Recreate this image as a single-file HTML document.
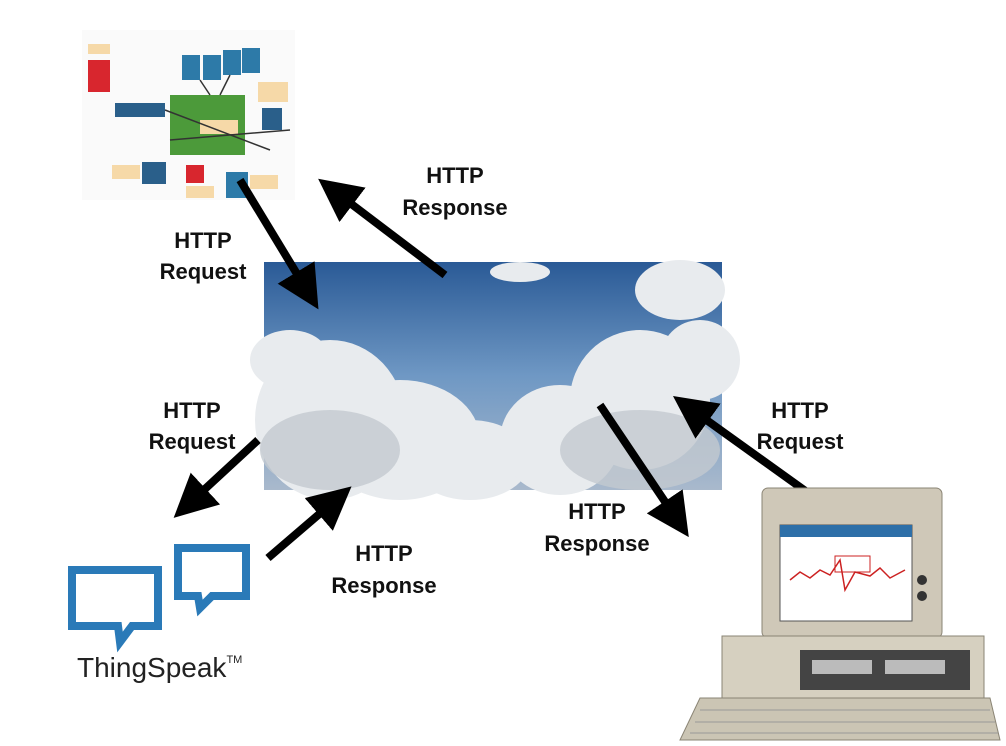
<!DOCTYPE html>
<html><head><meta charset="utf-8"><style>
html,body{margin:0;padding:0;background:#fff;width:1006px;height:746px;overflow:hidden}
svg{display:block}
text{font-family:"Liberation Sans",sans-serif;font-weight:bold;font-size:22px;fill:#111}
</style></head><body>
<svg width="1006" height="746" viewBox="0 0 1006 746">
<defs>
<linearGradient id="sky" x1="0" y1="0" x2="0" y2="1">
<stop offset="0" stop-color="#2a5a96"/><stop offset="0.5" stop-color="#6f98c4"/><stop offset="1" stop-color="#a9b9cc"/>
</linearGradient>
<marker id="ah" viewBox="0 0 10 10" refX="8" refY="5" markerWidth="5.4" markerHeight="5.4" orient="auto" markerUnits="strokeWidth">
<path d="M0,0 L10,5 L0,10 z" fill="#000"/></marker>
</defs>
<!-- circuit board -->
<rect x="82" y="30" width="213" height="170" fill="#fafafa"/>
<rect x="88" y="44" width="22" height="10" fill="#f6d9a8"/>
<rect x="88" y="60" width="22" height="32" fill="#d8262e"/>
<rect x="115" y="103" width="50" height="14" fill="#2a5f8a"/>
<rect x="170" y="95" width="75" height="60" fill="#4c9a3a"/>
<rect x="200" y="120" width="38" height="14" fill="#f6d9a8"/>
<rect x="182" y="55" width="18" height="25" fill="#2d7aa8"/>
<rect x="203" y="55" width="18" height="25" fill="#2d7aa8"/>
<rect x="223" y="50" width="18" height="25" fill="#2d7aa8"/>
<rect x="242" y="48" width="18" height="25" fill="#2d7aa8"/>
<rect x="258" y="82" width="30" height="20" fill="#f6d9a8"/>
<rect x="262" y="108" width="20" height="22" fill="#2a5f8a"/>
<rect x="112" y="165" width="28" height="14" fill="#f6d9a8"/>
<rect x="142" y="162" width="24" height="22" fill="#2a5f8a"/>
<rect x="186" y="165" width="18" height="18" fill="#d8262e"/>
<rect x="226" y="172" width="22" height="26" fill="#2d7aa8"/>
<rect x="250" y="175" width="28" height="14" fill="#f6d9a8"/>
<rect x="186" y="186" width="28" height="12" fill="#f6d9a8"/>
<path d="M165 110 L270 150 M170 140 L290 130 M200 80 L210 95 M230 75 L220 95" stroke="#333" stroke-width="1.5" fill="none"/>
<!-- cloud image -->
<rect x="264" y="262" width="458" height="228" fill="url(#sky)"/>
<g fill="#e8ebee">
<ellipse cx="330" cy="420" rx="75" ry="80"/>
<ellipse cx="400" cy="440" rx="80" ry="60"/>
<ellipse cx="470" cy="460" rx="60" ry="40"/>
<ellipse cx="560" cy="440" rx="60" ry="55"/>
<ellipse cx="640" cy="400" rx="70" ry="70"/>
<ellipse cx="700" cy="360" rx="40" ry="40"/>
<ellipse cx="680" cy="290" rx="45" ry="30"/>
<ellipse cx="520" cy="272" rx="30" ry="10"/>
<ellipse cx="290" cy="360" rx="40" ry="30"/>
</g>
<g fill="#c3c9d0" opacity="0.8">
<ellipse cx="330" cy="450" rx="70" ry="40"/>
<ellipse cx="640" cy="450" rx="80" ry="40"/>
</g>
<!-- arrows -->
<g stroke="#000" stroke-width="8" fill="none" marker-end="url(#ah)">
<line x1="240" y1="180" x2="314" y2="302"/>
<line x1="445" y1="275" x2="325" y2="184"/>
<line x1="258" y1="440" x2="180" y2="512"/>
<line x1="268" y1="558" x2="345" y2="492"/>
<line x1="600" y1="405" x2="684" y2="530"/>
<line x1="818" y1="500" x2="680" y2="401"/>
</g>
<text x="203" y="248" text-anchor="middle">HTTP</text><text x="203" y="279" text-anchor="middle">Request</text>
<text x="455" y="183" text-anchor="middle">HTTP</text><text x="455" y="215" text-anchor="middle">Response</text>
<text x="192" y="418" text-anchor="middle">HTTP</text><text x="192" y="449" text-anchor="middle">Request</text>
<text x="384" y="561" text-anchor="middle">HTTP</text><text x="384" y="593" text-anchor="middle">Response</text>
<text x="597" y="519" text-anchor="middle">HTTP</text><text x="597" y="551" text-anchor="middle">Response</text>
<text x="800" y="418" text-anchor="middle">HTTP</text><text x="800" y="449" text-anchor="middle">Request</text>
<!-- ThingSpeak -->
<g fill="none" stroke="#2a7ab8" stroke-width="8">
<path d="M72 570 H158 V626 H132 L120 642 L118 626 H72 Z"/>
<path d="M178 548 H246 V596 H212 L200 608 L198 596 H178 Z"/>
</g>
<text x="77" y="677" style="font-weight:normal;font-size:28px;fill:#222">ThingSpeak<tspan font-size="11" dy="-14">TM</tspan></text>
<!-- computer -->
<rect x="762" y="488" width="180" height="150" rx="6" fill="#cfc8b8" stroke="#8a8474"/>
<rect x="780" y="525" width="132" height="96" fill="#fff" stroke="#555"/>
<rect x="780" y="525" width="132" height="12" fill="#2d6fa8"/>
<polyline points="790,580 800,572 810,578 820,570 830,575 840,560 845,590 855,572 870,576 880,568 890,578 905,570" stroke="#c22" stroke-width="1.5" fill="none"/>
<rect x="835" y="556" width="35" height="16" fill="none" stroke="#c22"/>
<circle cx="922" cy="580" r="5" fill="#333"/><circle cx="922" cy="596" r="5" fill="#333"/>
<rect x="722" y="636" width="262" height="62" fill="#d6d0c0" stroke="#8a8474"/>
<rect x="800" y="650" width="170" height="40" fill="#444"/>
<rect x="812" y="660" width="60" height="14" fill="#bbb"/><rect x="885" y="660" width="60" height="14" fill="#bbb"/>
<path d="M700 698 H990 L1000 740 H680 Z" fill="#cbc5b4" stroke="#8a8474"/>
<g stroke="#999" stroke-width="1">
<line x1="700" y1="710" x2="990" y2="710"/><line x1="695" y1="722" x2="995" y2="722"/><line x1="690" y1="733" x2="998" y2="733"/>
</g>
</svg>
</body></html>
